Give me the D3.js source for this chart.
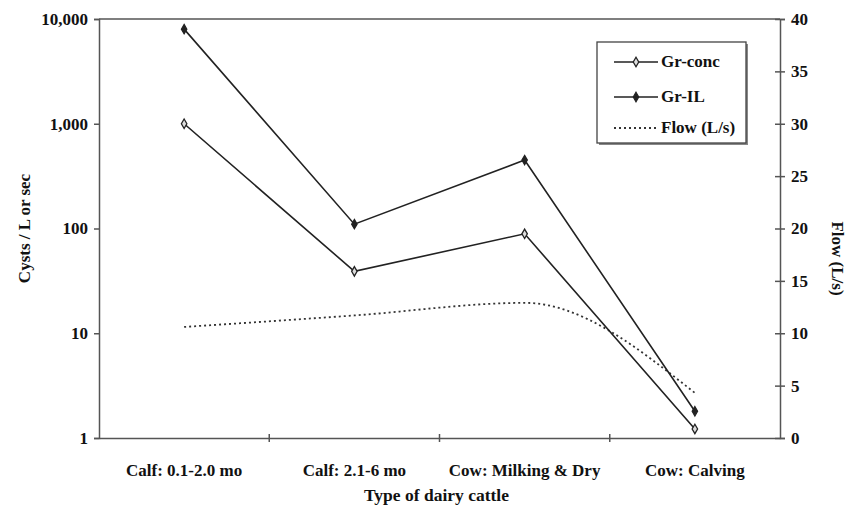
<!DOCTYPE html>
<html>
<head>
<meta charset="utf-8">
<script src="https://cdn.jsdelivr.net/npm/d3@7"></script>
<style>
  html, body { margin: 0; padding: 0; background: #fff; }
</style>
</head>
<body>
<svg id="chart" width="846" height="508"></svg>
<script>
const categories = ["Calf: 0.1-2.0 mo", "Calf: 2.1-6 mo", "Cow: Milking & Dry", "Cow: Calving"];
const grConc = [1000, 39, 89, 1.22];
const grIL = [8000, 110, 450, 1.8];
const flow = [10.6, 11.7, 12.9, 4.3];
const leftTicks = [1, 10, 100, 1000, 10000];
const rightTicks = [0, 5, 10, 15, 20, 25, 30, 35, 40];
const seriesNames = ["Gr-conc", "Gr-IL", "Flow (L/s)"];

const svg = d3.select("#chart");
const m = { left: 99, right: 780, top: 19, bottom: 438 };
const axisColor = "#555";

const x = d3.scaleBand().domain(categories).range([m.left, m.right]).paddingInner(0).paddingOuter(0);
const yL = d3.scaleLog().domain([1, 10000]).range([m.bottom, m.top]);
const yR = d3.scaleLinear().domain([0, 40]).range([m.bottom, m.top]);
const cx = d => x(d) + x.bandwidth() / 2;

svg.append("line").attr("x1", m.left).attr("x2", m.right).attr("y1", m.top).attr("y2", m.top)
  .attr("stroke", axisColor).attr("stroke-width", 1.5);

function styleAxis(g) {
  g.selectAll(".domain").attr("stroke", axisColor).attr("stroke-width", 1.5);
  g.selectAll(".tick line").attr("stroke", axisColor).attr("stroke-width", 1.5);
  g.selectAll(".tick text").style("font-size", "17px");
}

const gL = svg.append("g").attr("transform", `translate(${m.left},0)`)
  .call(d3.axisLeft(yL).tickValues(leftTicks).tickFormat(d3.format(",")).tickSizeOuter(0).tickSize(5).tickPadding(6));
styleAxis(gL);

const gR = svg.append("g").attr("transform", `translate(${m.right},0)`)
  .call(d3.axisRight(yR).tickValues(rightTicks).tickSizeOuter(0).tickSize(5).tickPadding(6));
styleAxis(gR);
gR.selectAll(".tick line").attr("x1", -5);

const gB = svg.append("g").attr("transform", `translate(0,${m.bottom})`)
  .call(d3.axisBottom(x).tickSize(0).tickPadding(26));
styleAxis(gB);
gB.selectAll(".tick line").remove();
const bTicks = [0, 1, 2, 3, 4].map(i => m.left + i * x.bandwidth());
svg.append("g").selectAll("line").data(bTicks.slice(1, 4)).join("line")
  .attr("x1", d => d).attr("x2", d => d).attr("y1", m.bottom - 4).attr("y2", m.bottom + 4)
  .attr("stroke", axisColor).attr("stroke-width", 1.5);

svg.append("text").attr("transform", `translate(30,${(m.top + m.bottom) / 2}) rotate(-90)`)
  .attr("text-anchor", "middle").style("font-size", "17px").text("Cysts / L or sec");
svg.append("text").attr("transform", `translate(832,${(m.top + m.bottom) / 2 + 30}) rotate(90)`)
  .attr("text-anchor", "middle").style("font-size", "17px").text("Flow (L/s)");
svg.append("text").attr("x", (m.left + m.right) / 2 - 3).attr("y", 501)
  .attr("text-anchor", "middle").style("font-size", "17.5px").text("Type of dairy cattle");

const lineColor = "#222";
const lineL = d3.line().x((d, i) => cx(categories[i])).y(d => yL(d));
const lineR = d3.line().x((d, i) => cx(categories[i])).y(d => yR(d)).curve(d3.curveMonotoneX);

svg.append("path").datum(flow).attr("d", lineR).attr("fill", "none")
  .attr("stroke", "#333").attr("stroke-width", 1.8).attr("stroke-dasharray", "2,3");
svg.append("path").datum(grConc).attr("d", lineL).attr("fill", "none")
  .attr("stroke", lineColor).attr("stroke-width", 1.6);
svg.append("path").datum(grIL).attr("d", lineL).attr("fill", "none")
  .attr("stroke", lineColor).attr("stroke-width", 1.6);

const diamond = d3.symbol().type(d3.symbolDiamond).size(26);
svg.append("g").selectAll("path").data(grConc).join("path")
  .attr("d", diamond).attr("transform", (d, i) => `translate(${cx(categories[i])},${yL(d)})`)
  .attr("fill", "#ddd").attr("stroke", lineColor).attr("stroke-width", 1.3);
svg.append("g").selectAll("path").data(grIL).join("path")
  .attr("d", diamond).attr("transform", (d, i) => `translate(${cx(categories[i])},${yL(d)})`)
  .attr("fill", lineColor).attr("stroke", lineColor).attr("stroke-width", 1.2);

const lg = svg.append("g");
lg.append("rect").attr("x", 599).attr("y", 44).attr("width", 149).attr("height", 101).attr("fill", "#888");
lg.append("rect").attr("x", 597).attr("y", 42).attr("width", 149).attr("height", 101)
  .attr("fill", "#fff").attr("stroke", "#444").attr("stroke-width", 1.3);
const rows = [62, 97, 128];
seriesNames.forEach((name, i) => {
  const y = rows[i];
  const ln = lg.append("line").attr("x1", 614).attr("x2", 658).attr("y1", y).attr("y2", y)
    .attr("stroke", i === 2 ? "#333" : lineColor).attr("stroke-width", i === 2 ? 1.8 : 1.6);
  if (i === 2) ln.attr("stroke-dasharray", "2,3");
  else {
    lg.append("path").attr("d", diamond).attr("transform", `translate(636,${y})`)
      .attr("fill", i === 0 ? "#ddd" : lineColor).attr("stroke", lineColor).attr("stroke-width", i === 0 ? 1.3 : 1.2);
  }
  lg.append("text").attr("x", 661).attr("y", y + 5).style("font-size", "17px").text(name);
});

svg.selectAll("text")
  .style("font-family", '"Liberation Serif"')
  .style("font-weight", "bold")
  .attr("fill", "#111");
</script>
</body>
</html>
